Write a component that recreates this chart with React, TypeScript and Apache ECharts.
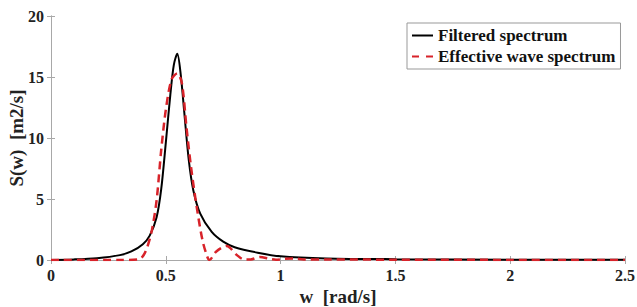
import React, { useEffect, useRef } from "react";
import * as echarts from "echarts";

const filteredW = [0, 0.1, 0.2, 0.3, 0.35, 0.4, 0.43, 0.46, 0.48, 0.5, 0.52, 0.535, 0.55, 0.565, 0.58, 0.6, 0.62, 0.65, 0.7, 0.75, 0.8, 0.9, 1.0, 1.2, 1.5, 2.0, 2.5];
const filteredS = [0.01, 0.05, 0.15, 0.4, 0.7, 1.3, 2.0, 3.5, 5.8, 9.6, 13.6, 16.0, 16.9, 15.2, 12.2, 8.2, 5.7, 3.8, 2.3, 1.5, 1.05, 0.6, 0.3, 0.13, 0.07, 0.03, 0.02];

const effectiveW = [0, 0.3, 0.38, 0.4, 0.42, 0.44, 0.46, 0.48, 0.5, 0.525, 0.55, 0.57, 0.59, 0.61, 0.635, 0.66, 0.68, 0.69, 0.72, 0.765, 0.81, 0.84, 0.87, 0.91, 0.95, 0.98, 1.02, 1.06, 1.1, 1.2, 1.5, 2.0, 2.5];
const effectiveS = [0, 0, 0.05, 0.3, 1.1, 2.5, 4.9, 9.0, 12.3, 14.8, 15.3, 14.5, 10.9, 7.6, 4.3, 1.6, 0.3, 0, 0.7, 1.15, 0.4, 0.05, 0.05, 0.25, 0.1, 0.02, 0.1, 0.12, 0.05, 0.05, 0.02, 0.01, 0.01];

const seriesNames = ["Filtered spectrum", "Effective wave spectrum"];
const xTitle = "w  [rad/s]";
const yTitle = "S(w)  [m2/s]";

const FONT = "Liberation Serif";
const BOX = "#a8a8a8";
const RED = "#d8232a";

export default function App() {
  const ref = useRef<HTMLDivElement>(null);
  useEffect(() => {
    if (!ref.current) return;
    const chart = echarts.init(ref.current, null, { renderer: "svg" });
    const axisCommon = {
      axisLine: { show: true, lineStyle: { color: BOX, width: 1 } },
      axisTick: { show: true, inside: true, length: 4, lineStyle: { color: BOX } },
      splitLine: { show: false },
    };
    chart.setOption({
      animation: false,
      backgroundColor: "#fff",
      textStyle: { fontFamily: FONT, fontWeight: "bold" },
      grid: { left: 51, right: 12, top: 16, bottom: 47, containLabel: false, outerBoundsMode: "none" },
      legend: {
        orient: "vertical",
        left: 407,
        top: 23,
        padding: [4, 5, 4, 5],
        itemGap: 4,
        itemWidth: 21,
        itemHeight: 3,
        backgroundColor: "#fff",
        borderColor: "#999",
        borderWidth: 1,
        borderRadius: 0,
        textStyle: { fontFamily: FONT, fontWeight: "bold", fontSize: 17, color: "#111", lineHeight: 16 },
        data: [
          { name: seriesNames[0], icon: "path://M0,0h21v2h-21z", itemStyle: { color: "#000" } },
          { name: seriesNames[1], icon: "path://M0,0h7v2h-7z M14,0h7v2h-7z", itemStyle: { color: RED } },
        ],
      },
      xAxis: [
        {
          type: "value",
          min: 0,
          max: 2.5,
          interval: 0.5,
          ...axisCommon,
          axisLabel: { fontFamily: FONT, fontWeight: "bold", fontSize: 16, color: "#222", margin: 7 },
          name: xTitle,
          nameLocation: "middle",
          nameGap: 27,
          nameMoveOverlap: false,
          nameTextStyle: { fontFamily: FONT, fontWeight: "bold", fontSize: 19, color: "#222" },
        },
        {
          type: "value",
          position: "top",
          min: 0,
          max: 2.5,
          interval: 0.5,
          ...axisCommon,
          axisLabel: { show: false },
        },
      ],
      yAxis: [
        {
          type: "value",
          min: 0,
          max: 20,
          interval: 5,
          ...axisCommon,
          axisLabel: { fontFamily: FONT, fontWeight: "bold", fontSize: 16, color: "#222", margin: 7 },
          name: yTitle,
          nameLocation: "middle",
          nameGap: 25,
          nameMoveOverlap: false,
          nameTextStyle: { fontFamily: FONT, fontWeight: "bold", fontSize: 19, color: "#222" },
        },
        {
          type: "value",
          position: "right",
          min: 0,
          max: 20,
          interval: 5,
          ...axisCommon,
          axisLabel: { show: false },
        },
      ],
      series: [
        {
          name: seriesNames[0],
          type: "line",
          data: filteredW.map((w, i) => [w, filteredS[i]]),
          symbol: "none",
          smooth: 0.3,
          lineStyle: { color: "#000", width: 2 },
          itemStyle: { color: "#000" },
          z: 2,
        },
        {
          name: seriesNames[1],
          type: "line",
          data: effectiveW.map((w, i) => [w, effectiveS[i]]),
          symbol: "none",
          smooth: 0.3,
          lineStyle: { color: RED, width: 2.5, type: [8, 5] },
          itemStyle: { color: RED },
          z: 3,
        },
      ],
    });
    return () => chart.dispose();
  }, []);
  return <div ref={ref} style={{ width: 637, height: 307, position: "absolute", left: 0, top: 0 }} />;
}
